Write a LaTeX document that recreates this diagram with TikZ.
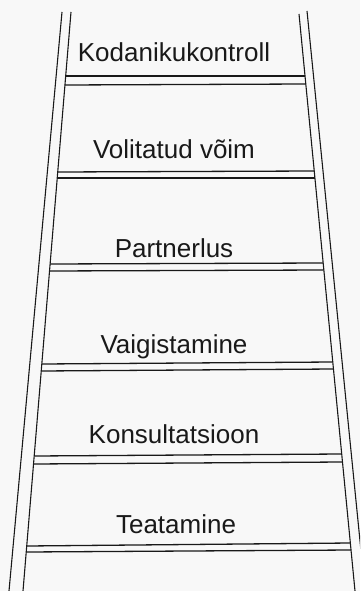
\documentclass[tikz,border=0pt]{standalone}
\usepackage{fontspec}
\setmainfont{Liberation Sans}
\definecolor{paper}{RGB}{248,248,248}
\definecolor{ink}{RGB}{25,25,25}
\begin{document}
\begin{tikzpicture}[x=1pt,y=-1pt,
  rail/.style={draw=ink,line width=1.1pt},
  rung/.style={draw=ink,line width=1.3pt},
  label/.style={anchor=base,inner sep=0pt,text=ink,font=\fontsize{26}{30}\selectfont}]
\fill[paper] (0,0) rectangle (360,591);
\useasboundingbox (0,0) rectangle (360,591);
\begin{scope}
\clip (0,0) rectangle (360,591);
% rails
\coordinate (lo1) at (62,12);  \coordinate (lo2) at (9,591);
\coordinate (li1) at (71,12);  \coordinate (li2) at (23,591);
\coordinate (ri1) at (299,14); \coordinate (ri2) at (355,591);
\coordinate (ro1) at (307,11); \coordinate (ro2) at (365,591);
\draw[rail] (lo1) -- (lo2);
\draw[rail] (li1) -- (li2);
\draw[rail] (ri1) -- (ri2);
\draw[rail] (ro1) -- (ro2);
% rungs
\draw[rung] (65.7,76) -- (305.0,76);   \draw[rung] (64.9,85) -- (305.9,84);
\draw[rung] (57.7,172) -- (314.2,171); \draw[rung] (57.2,178) -- (314.8,178);
\draw[rung] (50.2,264) -- (323.0,263); \draw[rung] (49.6,271) -- (323.7,270);
\draw[rung] (41.9,364) -- (332.7,362); \draw[rung] (41.3,371) -- (333.4,369);
\draw[rung] (34.3,456) -- (341.6,454); \draw[rung] (33.6,464) -- (342.3,462);
\draw[rung] (26.8,546) -- (350.2,543); \draw[rung] (26.3,552) -- (350.8,550);
\end{scope}
% labels
\node[label] (t1) at (174,62)  {Kodanikukontroll};
\node[label] (t2) at (174,158) {Volitatud võim};
\node[label] (t3) at (174,257) {Partnerlus};
\node[label] (t4) at (174,353) {Vaigistamine};
\node[label] (t5) at (174,443) {Konsultatsioon};
\node[label] (t6) at (176,533) {Teatamine};
\end{tikzpicture}
\end{document}
